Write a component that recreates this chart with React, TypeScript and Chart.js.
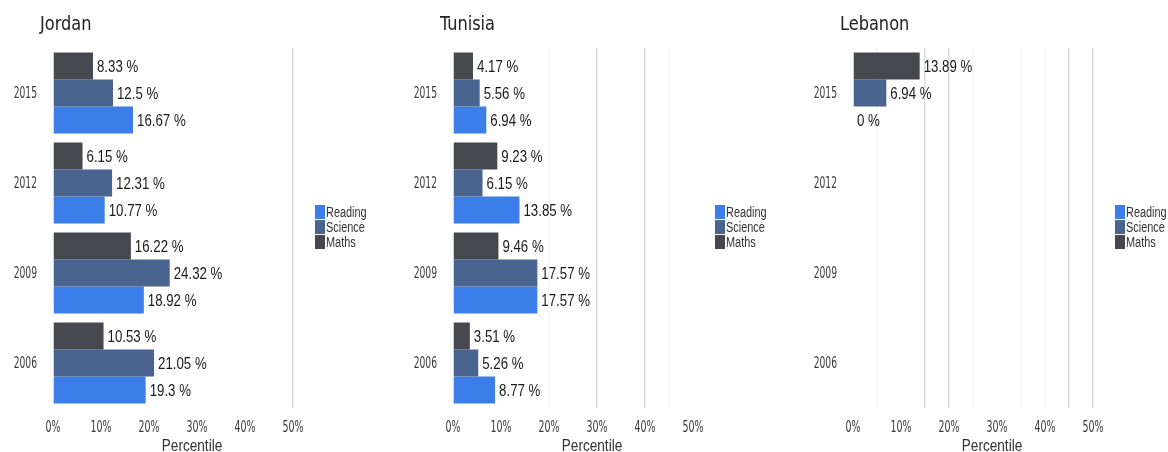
import React, { useEffect, useRef } from "react";
import { Chart, registerables } from "chart.js";

Chart.register(...registerables);

const years = ["2015", "2012", "2009", "2006"];
const seriesNames = ["Maths", "Science", "Reading"];
const seriesColors = ["#45484f", "#4a6490", "#3b7ee9"];
const countries = ["Jordan", "Tunisia", "Lebanon"];
const xTickValues = [0, 10, 20, 30, 40, 50];
const axisTitle = "Percentile";

const jordanMaths = [8.33, 6.15, 16.22, 10.53];
const jordanScience = [12.5, 12.31, 24.32, 21.05];
const jordanReading = [16.67, 10.77, 18.92, 19.3];

const tunisiaMaths = [4.17, 9.23, 9.46, 3.51];
const tunisiaScience = [5.56, 6.15, 17.57, 5.26];
const tunisiaReading = [6.94, 13.85, 17.57, 8.77];

const lebanonMaths = [13.89, null, null, null];
const lebanonScience = [6.94, null, null, null];
const lebanonReading = [0, null, null, null];

const SANS = '"Liberation Sans", Arial, sans-serif';
const GEOM = '"DejaVu Sans Condensed", "DejaVu Sans", sans-serif';

type PanelProps = {
  title: string;
  series: (number | null)[][];
  strongGrid: number[];
  faintGrid: number[];
};

function narrowText(
  ctx: CanvasRenderingContext2D,
  text: string,
  x: number,
  y: number,
  align: "left" | "center" | "right",
  sx: number
) {
  ctx.save();
  ctx.translate(x, y);
  ctx.scale(sx, 1);
  ctx.textAlign = align;
  ctx.textBaseline = "middle";
  ctx.fillText(text, 0, 0);
  ctx.restore();
}

function Panel({ title, series, strongGrid, faintGrid }: PanelProps) {
  const ref = useRef<HTMLCanvasElement | null>(null);

  useEffect(() => {
    if (!ref.current) return;

    const decor = {
      id: "decor",
      afterDraw(chart: any) {
        const ctx = chart.ctx as CanvasRenderingContext2D;
        const area = chart.chartArea;
        const xs = chart.scales.x;
        const ys = chart.scales.y;
        ctx.save();
        // title
        ctx.fillStyle = "#222";
        ctx.font = `20px ${GEOM}`;
        narrowText(ctx, title, 40, 25, "left", 0.9);
        // y tick labels
        ctx.font = `15px ${GEOM}`;
        ctx.fillStyle = "#3a3a3a";
        years.forEach((yr, i) => {
          narrowText(ctx, yr, area.left - 16, ys.getPixelForTick(i) + 1, "right", 0.68);
        });
        // x tick labels
        xTickValues.forEach((v) => {
          narrowText(ctx, `${v}%`, xs.getPixelForValue(v), 428, "center", 0.7);
        });
        // data labels
        ctx.font = `17px ${SANS}`;
        ctx.fillStyle = "#1a1a1a";
        chart.data.datasets.forEach((ds: any, i: number) => {
          const meta = chart.getDatasetMeta(i);
          meta.data.forEach((bar: any, j: number) => {
            const v = ds.data[j];
            if (v === null || v === undefined) return;
            narrowText(ctx, `${v} %`, bar.x + 4, bar.y + 1.5, "left", 0.78);
          });
        });
        // legend (reverse order)
        ctx.font = `14px ${SANS}`;
        const lx = area.right + 22;
        const ly = 205;
        const n = chart.data.datasets.length;
        for (let k = 0; k < n; k++) {
          const ds = chart.data.datasets[n - 1 - k];
          ctx.fillStyle = ds.backgroundColor;
          ctx.fillRect(lx, ly + k * 15, 10, 14);
          ctx.fillStyle = "#333";
          narrowText(ctx, ds.label, lx + 11, ly + k * 15 + 8, "left", 0.78);
        }
        // x axis title
        ctx.font = `17px ${SANS}`;
        ctx.fillStyle = "#333";
        narrowText(ctx, axisTitle, 192, 446, "center", 0.8);
        ctx.restore();
      },
    };

    const chart = new Chart(ref.current, {
      type: "bar",
      data: {
        labels: years,
        datasets: seriesNames.map((name, i) => ({
          label: name,
          data: series[i] as any,
          backgroundColor: seriesColors[i],
          borderWidth: 0,
          categoryPercentage: 0.9,
          barPercentage: 1.0,
        })),
      },
      options: {
        indexAxis: "y",
        animation: false,
        responsive: false,
        maintainAspectRatio: false,
        layout: { padding: { top: 48, right: 107, bottom: 0, left: 0 } },
        plugins: {
          legend: { display: false },
          title: { display: false },
          tooltip: { enabled: false },
        },
        scales: {
          x: {
            min: 0,
            max: 50,
            ticks: {
              stepSize: 5,
              autoSkip: false,
              display: false,
            },
            grid: {
              drawTicks: false,
              color: (c: any) => {
                const v = c.tick ? c.tick.value : -1;
                if (strongGrid.includes(v)) return "#dedede";
                if (faintGrid.includes(v)) return "#f4f4f4";
                return "rgba(0,0,0,0)";
              },
              lineWidth: 1.5,
            },
            border: { display: false },
            afterFit: (s: any) => {
              s.height = 44;
            },
          },
          y: {
            ticks: { display: false },
            grid: { display: false, drawTicks: false },
            border: { display: false },
            afterFit: (s: any) => {
              s.width = 53;
            },
          },
        },
      } as any,
      plugins: [decor],
    });
    return () => chart.destroy();
  }, [title, series, strongGrid, faintGrid]);

  return <canvas ref={ref} width={400} height={452} style={{ width: 400, height: 452, display: "block" }} />;
}

export default function App() {
  const panels = [
    { series: [jordanMaths, jordanScience, jordanReading], strong: [50], faint: [] as number[] },
    { series: [tunisiaMaths, tunisiaScience, tunisiaReading], strong: [30, 40], faint: [20, 45] },
    { series: [lebanonMaths, lebanonScience, lebanonReading], strong: [15, 20, 45, 50], faint: [5, 25, 35, 40] },
  ];
  return (
    <div
      style={{
        position: "fixed",
        left: 0,
        top: 0,
        width: 1168,
        height: 452,
        overflow: "hidden",
        background: "#fff",
      }}
    >
      {panels.map((p, i) => (
        <div key={countries[i]} style={{ position: "absolute", left: i * 400, top: 0, width: 400, height: 452 }}>
          <Panel title={countries[i]} series={p.series} strongGrid={p.strong} faintGrid={p.faint} />
        </div>
      ))}
    </div>
  );
}
